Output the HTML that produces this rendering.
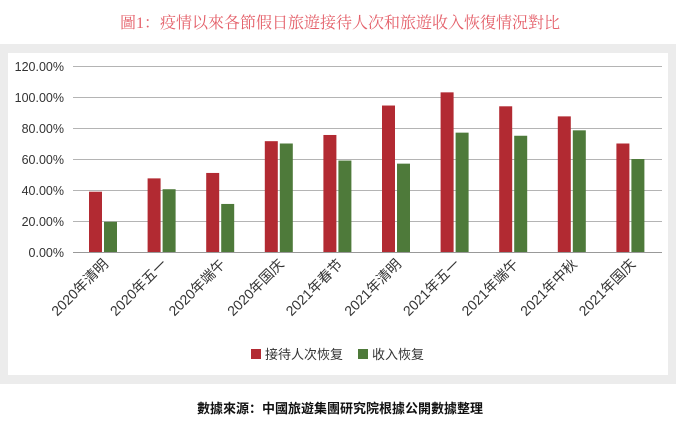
<!DOCTYPE html>
<html><head><meta charset="utf-8"><style>
body{margin:0;width:680px;height:428px;background:#fff;overflow:hidden;font-family:"Liberation Sans","Noto Sans CJK SC",sans-serif}
</style></head><body>
<svg width="680" height="428" xmlns="http://www.w3.org/2000/svg">
<text x="340" y="28" text-anchor="middle" font-family="Liberation Serif,'Noto Serif CJK SC',serif" font-size="16" fill="#e4606a">圖1：疫情以來各節假日旅遊接待人次和旅遊收入恢復情況對比</text>
<rect x="0" y="44" width="676" height="340" fill="#ececec"/>
<rect x="8" y="53" width="660" height="322" fill="#fff"/>
<g stroke="#b4b4b4" stroke-width="1">
<line x1="73" x2="662" y1="66.5" y2="66.5"/><line x1="73" x2="662" y1="97.5" y2="97.5"/><line x1="73" x2="662" y1="128.5" y2="128.5"/><line x1="73" x2="662" y1="159.5" y2="159.5"/><line x1="73" x2="662" y1="190.5" y2="190.5"/><line x1="73" x2="662" y1="221.5" y2="221.5"/><line x1="73" x2="662" y1="252.5" y2="252.5" stroke="#999"/>
</g>
<g font-size="12.5" fill="#333" text-anchor="end">
<text x="64" y="71">120.00%</text><text x="64" y="102">100.00%</text><text x="64" y="133">80.00%</text><text x="64" y="164">60.00%</text><text x="64" y="195">40.00%</text><text x="64" y="226">20.00%</text><text x="64" y="257">0.00%</text>
</g>
<g id="bars"></g>
<g id="labels" font-size="14" fill="#333" text-anchor="end"></g>
<rect x="251" y="349" width="10" height="10" fill="#b22a32"/>
<text x="265" y="359" font-size="13" fill="#333">接待人次恢复</text>
<rect x="358" y="349" width="10" height="10" fill="#4e7a3a"/>
<text x="372" y="359" font-size="13" fill="#333">收入恢复</text>
<text x="340" y="413" text-anchor="middle" font-size="13" font-weight="bold" fill="#111">數據來源：中國旅遊集團研究院根據公開數據整理</text>
</svg>
<script>
var r=[38.9,47.5,51,71.5,75.5,94.5,103,94,87.5,70],g=[19.5,40.5,31,70,59,57,77,75,78.5,60];
var L=["2020年清明","2020年五一","2020年端午","2020年国庆","2021年春节","2021年清明","2021年五一","2021年端午","2021年中秋","2021年国庆"];
var b="",l="";
for(var i=0;i<10;i++){var x=89+i*58.6;
b+='<rect x="'+x+'" y="'+(252-r[i]*1.55)+'" width="13" height="'+(r[i]*1.55)+'" fill="#b22a32"/>';
b+='<rect x="'+(x+15)+'" y="'+(252-g[i]*1.55)+'" width="13" height="'+(g[i]*1.55)+'" fill="#4e7a3a"/>';
var cx=x+20,cy=265;
l+='<text x="'+cx+'" y="'+cy+'" transform="rotate(-45 '+cx+' '+cy+')">'+L[i]+'</text>';}
document.getElementById("bars").innerHTML=b;document.getElementById("labels").innerHTML=l;
</script>
</body></html>
